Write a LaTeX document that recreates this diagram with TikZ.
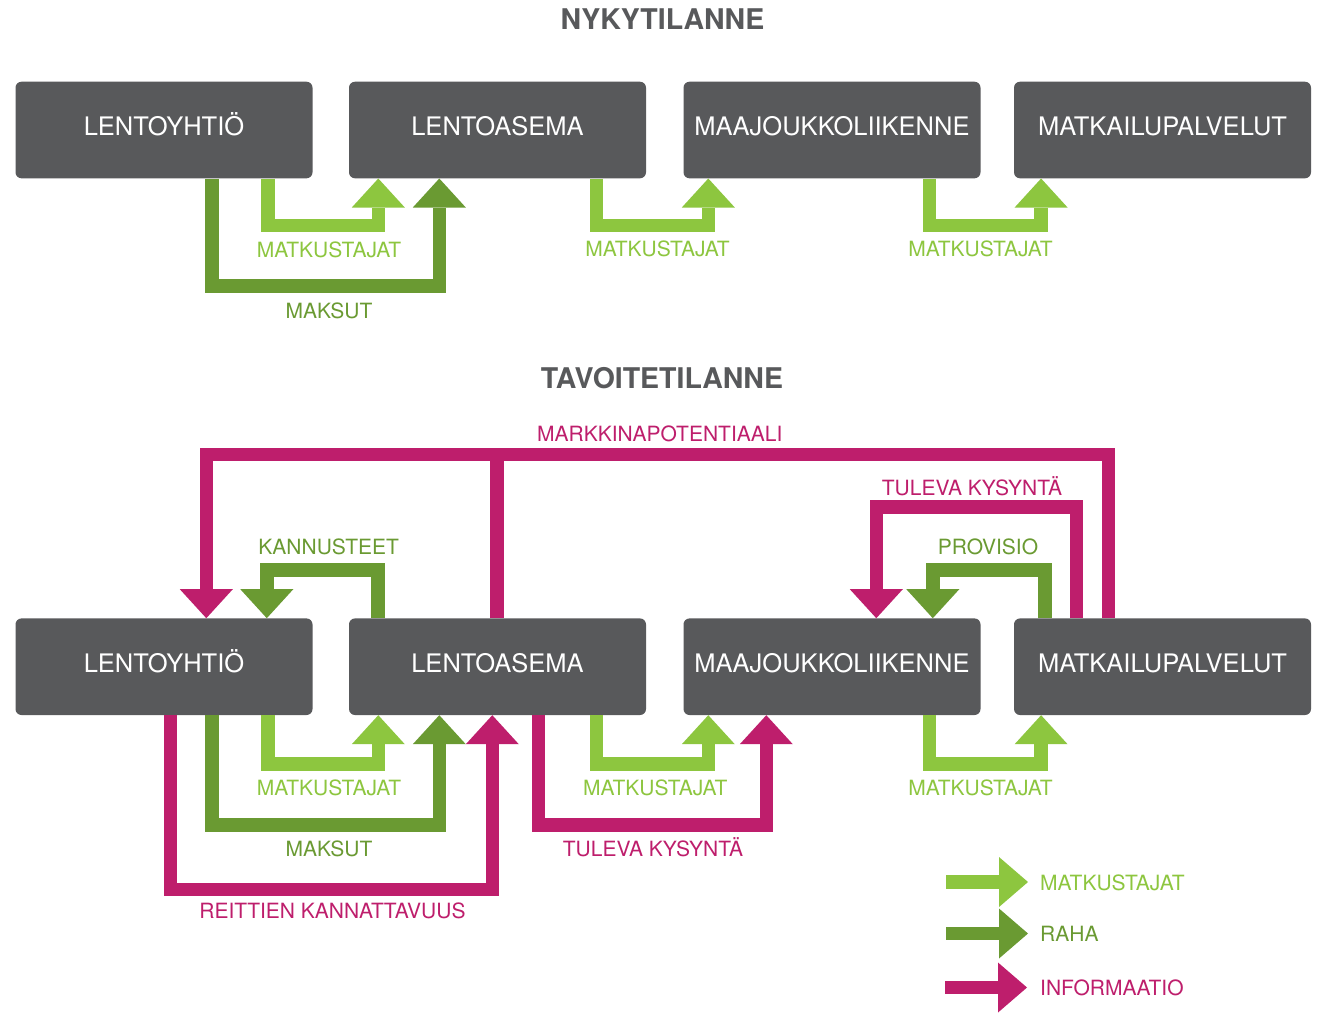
\documentclass[tikz,border=0pt]{standalone}
\usepackage{fontspec}
\setmainfont{TeX Gyre Heros}
\usetikzlibrary{arrows.meta}

\definecolor{boxgray}{RGB}{88,89,91}
\definecolor{lightgreen}{RGB}{141,198,63}
\definecolor{darkgreen}{RGB}{106,154,50}
\definecolor{magenta}{RGB}{190,30,108}

\tikzset{
  actor/.style={rectangle, rounded corners=6pt, fill=boxgray, text=white,
    minimum width=297pt, minimum height=96.6pt, inner sep=0pt,
    font=\fontsize{25.5}{26}\selectfont, text height=18.3pt, text depth=7pt},
  heading/.style={text=boxgray, inner sep=0pt, font=\fontsize{28.5}{29}\selectfont\bfseries,
    text height=20.5pt, text depth=0pt},
  lbl/.style={inner sep=0pt, font=\fontsize{21}{22}\selectfont,
    text height=15pt, text depth=0pt},
  flow/.style={line width=13.5pt,
    -{Triangle[width=53pt,length=29pt,line width=0pt]}},
  keyflow/.style={line width=13.5pt,
    -{Triangle[width=50pt,length=29pt,line width=0pt]}},
  pax/.style={draw=lightgreen},
  cash/.style={draw=darkgreen},
  info/.style={draw=magenta},
}

\begin{document}
\begin{tikzpicture}[x=1pt, y=-1pt]
  \fill[white] (0,0) rectangle (1319,1011);

  % ---------- current state ----------
  \node[heading] (h1) at (662.5,19.3) {NYKYTILANNE};

  \node[actor] (t1) at (164,130)    {LENTOYHTIÖ};
  \node[actor] (t2) at (497.5,130)  {LENTOASEMA};
  \node[actor] (t3) at (832,130)    {MAAJOUKKOLIIKENNE};
  \node[actor] (t4) at (1162.5,130) {MATKAILUPALVELUT};

  \draw[flow, pax]  ([xshift=252.5pt]t1.south west) -- ++(0,47)    -| ([xshift=29.5pt]t2.south west);
  \draw[flow, cash] ([xshift=196.5pt]t1.south west) -- ++(0,107.7) -| ([xshift=90.5pt]t2.south west);
  \draw[flow, pax]  ([xshift=247.7pt]t2.south west) -- ++(0,47)    -| ([xshift=25pt]t3.south west);
  \draw[flow, pax]  ([xshift=246pt]t3.south west)   -- ++(0,47)    -| ([xshift=27.3pt]t4.south west);

  \node[lbl, text=lightgreen] (l1) at (329,249.5)   {MATKUSTAJAT};
  \node[lbl, text=darkgreen]  (l2) at (329,310.8)   {MAKSUT};
  \node[lbl, text=lightgreen] (l3) at (657.5,249)   {MATKUSTAJAT};
  \node[lbl, text=lightgreen] (l4) at (980.5,248.5) {MATKUSTAJAT};

  % ---------- target state ----------
  \node[heading] (h2) at (662,378) {TAVOITETILANNE};

  \node[actor] (b1) at (164,666.7)    {LENTOYHTIÖ};
  \node[actor] (b2) at (497.5,666.7)  {LENTOASEMA};
  \node[actor] (b3) at (832,666.7)    {MAAJOUKKOLIIKENNE};
  \node[actor] (b4) at (1162.5,666.7) {MATKAILUPALVELUT};

  % flows above the boxes
  \draw[flow, info] ([xshift=94.5pt]b4.north west) -- ++(0,-163.5) -| ([xshift=191pt]b1.north west);
  \draw[line width=13.5pt, magenta] ([xshift=148.3pt]b2.north west) -- ++(0,-170.25);
  \draw[flow, info] ([xshift=62.5pt]b4.north west) -- ++(0,-111)   -| ([xshift=193pt]b3.north west);
  \draw[flow, cash] ([xshift=31pt]b4.north west)   -- ++(0,-48)    -| ([xshift=249.5pt]b3.north west);
  \draw[flow, cash] ([xshift=29pt]b2.north west)   -- ++(0,-48.3)  -| ([xshift=251.5pt]b1.north west);

  % flows below the boxes
  \draw[flow, info] ([xshift=155pt]b1.south west)   -- ++(0,174.5) -| ([xshift=143.5pt]b2.south west);
  \draw[flow, cash] ([xshift=196.5pt]b1.south west) -- ++(0,110)   -| ([xshift=90.5pt]b2.south west);
  \draw[flow, pax]  ([xshift=252.5pt]b1.south west) -- ++(0,49)    -| ([xshift=29.5pt]b2.south west);
  \draw[flow, info] ([xshift=189.8pt]b2.south west) -- ++(0,110)   -| ([xshift=83pt]b3.south west);
  \draw[flow, pax]  ([xshift=247.7pt]b2.south west) -- ++(0,49)    -| ([xshift=25pt]b3.south west);
  \draw[flow, pax]  ([xshift=246pt]b3.south west)   -- ++(0,49)    -| ([xshift=27.3pt]b4.south west);

  \node[lbl, text=magenta]    (m1) at (659.8,433.7) {MARKKINAPOTENTIAALI};
  \node[lbl, text=magenta]    (m2) at (972,487.5)   {TULEVA KYSYNTÄ};
  \node[lbl, text=darkgreen]  (m3) at (988,547)     {PROVISIO};
  \node[lbl, text=darkgreen]  (m4) at (328.7,546.7) {KANNUSTEET};
  \node[lbl, text=lightgreen] (m5) at (329,787.5)   {MATKUSTAJAT};
  \node[lbl, text=darkgreen]  (m6) at (329,849.2)   {MAKSUT};
  \node[lbl, text=magenta]    (m7) at (332.5,910.8) {REITTIEN KANNATTAVUUS};
  \node[lbl, text=lightgreen] (m8) at (655.3,787.5) {MATKUSTAJAT};
  \node[lbl, text=magenta]    (m9) at (653,849.2)   {TULEVA KYSYNTÄ};
  \node[lbl, text=lightgreen] (m10) at (980.5,787.5) {MATKUSTAJAT};

  % ---------- legend ----------
  \coordinate (k1a) at (946,882);   \coordinate (k1b) at (1028,882);
  \coordinate (k2a) at (946,933.5); \coordinate (k2b) at (1028,933.5);
  \coordinate (k3a) at (945,987.5); \coordinate (k3b) at (1027,987.5);
  \draw[keyflow, pax]  (k1a) -- (k1b);
  \draw[keyflow, cash] (k2a) -- (k2b);
  \draw[keyflow, info] (k3a) -- (k3b);
  \node[lbl, text=lightgreen, anchor=west] (k1) at (1040,883.3) {MATKUSTAJAT};
  \node[lbl, text=darkgreen,  anchor=west] (k2) at (1040,934.2) {RAHA};
  \node[lbl, text=magenta,    anchor=west] (k3) at (1040,987.8) {INFORMAATIO};
\end{tikzpicture}
\end{document}
